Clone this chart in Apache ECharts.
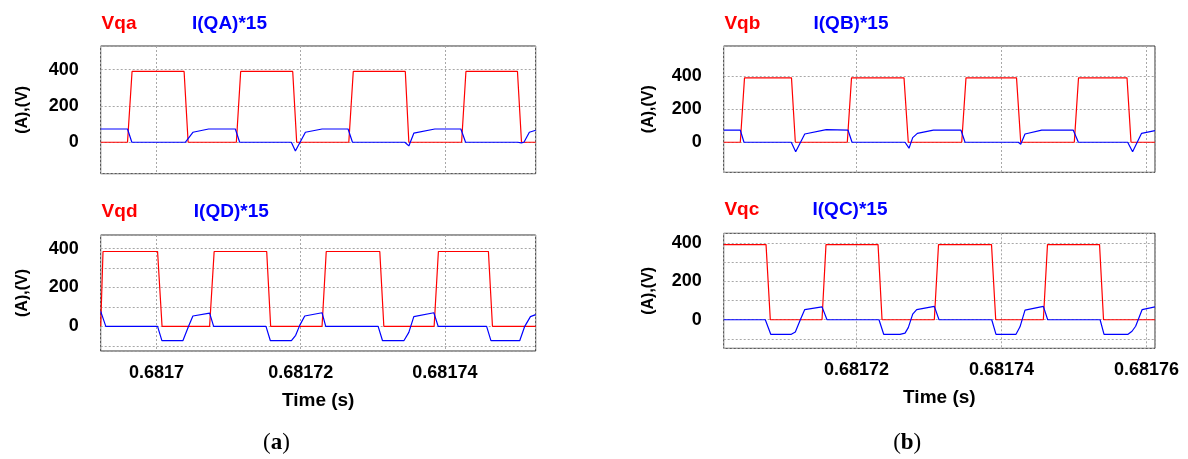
<!DOCTYPE html>
<html>
<head>
<meta charset="utf-8">
<script src="https://cdn.jsdelivr.net/npm/echarts@6/dist/echarts.min.js"></script>
<style>
html,body{margin:0;padding:0;background:#fff;}
#c{width:1188px;height:459px;}
</style>
</head>
<body>
<div id="c"></div>
<script>
// Time base: x values are microseconds after T0 seconds
const T0 = 0.6817;
const xTickStep = 20; // µs between labelled ticks

// Panel (a) top: Vqa and I(QA)*15
const vqa = [[-7.75,0],[-4.03,0],[-3.40,390],[3.82,390],[4.38,0],[11.07,0],[11.67,390],[18.89,390],[19.44,0],[26.67,0],[27.29,390],[34.51,390],[35.0,0],[42.32,0],[42.92,390],[50.07,390],[50.63,0],[52.6,0]];
const iqa = [[-7.75,73],[-4.03,73],[-3.43,0],[3.98,0],[4.21,-5],[5.04,55],[7.22,73],[10.93,73],[11.53,0],[18.7,0],[19.26,-48],[20.65,55],[22.96,73],[26.57,73],[27.18,0],[34.44,0],[35.0,-20],[35.69,50],[38.61,73],[42.22,73],[42.87,0],[50.1,0],[50.6,-3],[50.97,0],[51.72,55],[52.6,66]];

// Panel (a) bottom: Vqd and I(QD)*15
const vqd = [[-7.75,0],[-7.43,385],[0.14,385],[0.76,0],[7.36,0],[7.99,385],[15.28,385],[15.83,0],[22.96,0],[23.54,385],[30.97,385],[31.53,0],[38.51,0],[39.1,385],[46.04,385],[46.6,0],[52.6,0]];
const iqd = [[-7.75,77],[-7.04,0],[0.14,0],[0.74,-74],[3.65,-74],[4.44,0],[5.04,53],[7.36,68],[7.92,0],[15.18,0],[15.79,-74],[18.71,-74],[19.3,-46],[19.86,5],[20.56,53],[22.96,70],[23.47,0],[30.74,0],[31.35,-74],[34.31,-74],[35.0,-31],[35.69,50],[38.47,70],[39.07,0],[45.79,0],[46.39,-74],[50.38,-74],[51.08,0],[51.87,50],[52.6,60]];

// Panel (b) top: Vqb and I(QB)*15
const vqb = [[1.68,0],[3.97,0],[4.55,390],[11.03,390],[11.56,0],[18.73,0],[19.31,390],[26.55,390],[27.14,0],[34.51,0],[35.1,390],[42.07,390],[42.65,0],[50.04,0],[50.62,390],[57.31,390],[57.86,0],[61.17,0]];
const iqb = [[1.68,73],[3.97,73],[4.48,0],[11.0,0],[11.61,-57],[12.86,50],[15.83,77],[18.83,73],[19.38,0],[26.69,0],[27.24,-36],[27.75,28],[28.39,54],[30.6,73],[34.41,73],[34.97,0],[42.32,0],[42.65,-12],[43.24,50],[45.54,73],[49.9,73],[50.6,0],[57.4,0],[58.08,-57],[59.32,54],[61.17,70]];

// Panel (b) bottom: Vqc and I(QC)*15
const vqc = [[1.68,392],[7.52,392],[8.11,0],[15.24,0],[15.79,392],[22.97,392],[23.52,0],[30.73,0],[31.31,392],[38.62,392],[39.2,0],[45.77,0],[46.34,392],[53.52,392],[54.07,0],[61.17,0]];
const iqc = [[1.68,0],[7.42,0],[8.17,-76],[11.01,-76],[11.56,-64],[12.25,0],[12.86,53],[15.24,67],[15.93,0],[23.1,0],[23.75,-76],[26.0,-76],[26.69,-70],[27.14,-41],[27.75,29],[28.3,53],[30.73,70],[31.38,0],[38.65,0],[39.24,-76],[42.0,-76],[42.55,-37],[43.24,50],[45.77,70],[46.37,0],[53.6,0],[54.14,-76],[57.45,-76],[58.0,-60],[58.5,-34],[59.4,53],[61.17,67]];

// Axis extents
const xRangeA = [-7.75, 52.6];
const xRangeB = [1.68, 61.17];
const yRanges = [[-173,530],[-127,470],[-182,583],[-149,451]];
const yGridSteps = [200,100,200,100];
const yLabelStep = 200;

const legendNames = [['Vqa','I(QA)*15'],['Vqd','I(QD)*15'],['Vqb','I(QB)*15'],['Vqc','I(QC)*15']];

const FONT = 'Liberation Sans';
const RED = '#ff0000', BLUE = '#0000ff';

const grids = [
  {left:100.7, top:46, width:435, height:127.7},
  {left:100.7, top:235, width:435, height:116},
  {left:723.7, top:46, width:431.3, height:126.3},
  {left:723.7, top:233.3, width:431.3, height:115}
].map(g => Object.assign(g, {show:true, borderColor:'#333', borderWidth:1, backgroundColor:'#fff', containLabel:false}));

function isMult(v, s){ return Math.abs(v/s - Math.round(v/s)) < 1e-6; }
function timeLabel(v){
  if (!isMult(v, xTickStep)) return '';
  return (T0 + v*1e-6).toFixed(5).replace(/0+$/,'');
}

const xRanges = [xRangeA, xRangeA, xRangeB, xRangeB];
const showX = [false, true, false, true];

const xAxis = xRanges.map((r,i)=>({
  type:'value', gridIndex:i, min:r[0], max:r[1],
  minInterval:xTickStep, maxInterval:xTickStep,
  axisLine:{show:false}, axisTick:{show:false},
  axisLabel:{show:showX[i], formatter:timeLabel, color:'#000', fontFamily:FONT, fontWeight:'bold', fontSize:18, margin:13, showMinLabel:false, showMaxLabel:false},
  splitLine:{show:true, lineStyle:{color:'#a8a8a8', type:[2,2], width:1}},
  name: showX[i] ? 'Time (s)' : '', nameLocation:'middle', nameGap:40,
  nameTextStyle:{color:'#000', fontFamily:FONT, fontWeight:'bold', fontSize:19}
}));

const yAxis = yRanges.map((r,i)=>({
  type:'value', gridIndex:i, min:r[0], max:r[1],
  minInterval:yGridSteps[i], maxInterval:yGridSteps[i],
  axisLine:{show:false}, axisTick:{show:false},
  axisLabel:{formatter:v => isMult(v, yLabelStep) ? String(Math.round(v)) : '', color:'#000', fontFamily:FONT, fontWeight:'bold', fontSize:18, margin:22, showMinLabel:false, showMaxLabel:false},
  splitLine:{show:true, lineStyle:{color:'#a8a8a8', type:[2,2], width:1}},
  name:'(A),(V)', nameLocation:'middle', nameRotate:90, nameGap: i<2 ? 70 : 67,
  nameTextStyle:{color:'#000', fontFamily:FONT, fontWeight:'bold', fontSize:16}
}));

const vData = [vqa, vqd, vqb, vqc];
const iData = [iqa, iqd, iqb, iqc];
const series = [];
for (let i=0;i<4;i++){
  series.push({type:'line', xAxisIndex:i, yAxisIndex:i, data:vData[i], showSymbol:false, symbol:'none', lineStyle:{color:RED, width:1.2}, z:2});
  series.push({type:'line', xAxisIndex:i, yAxisIndex:i, data:iData[i], showSymbol:false, symbol:'none', lineStyle:{color:BLUE, width:1.2}, z:3});
}

const legendPos = [
  [[101.6,23.3],[192,23.3]],
  [[101.6,211.7],[193.8,211.7]],
  [[724.4,23.3],[813.5,23.3]],
  [[724.4,210],[812.5,210]]
];
const graphic = [];
legendPos.forEach((p,i)=>{
  graphic.push({type:'text', x:p[0][0], y:p[0][1], style:{text:legendNames[i][0], fill:RED, font:'bold 19px "Liberation Sans"', textAlign:'left', textVerticalAlign:'middle'}});
  graphic.push({type:'text', x:p[1][0], y:p[1][1], style:{text:legendNames[i][1], fill:BLUE, font:'bold 19px "Liberation Sans"', textAlign:'left', textVerticalAlign:'middle'}});
});
const captions = [['a', 276.4], ['b', 907.2]];
captions.forEach(c=>{
  graphic.push({type:'text', x:c[1], y:443.3, style:{text:'({b|' + c[0] + '})', rich:{b:{fontWeight:'bold', fontFamily:'Liberation Serif', fontSize:23, fill:'#000'}}, fill:'#000', font:'23px "Liberation Serif"', textAlign:'center', textVerticalAlign:'middle'}});
});

const chart = echarts.init(document.getElementById('c'), null, {renderer:'canvas'});
chart.setOption({
  animation:false,
  backgroundColor:'#fff',
  grid:grids, xAxis:xAxis, yAxis:yAxis, series:series, graphic:graphic
});
</script>
</body>
</html>
